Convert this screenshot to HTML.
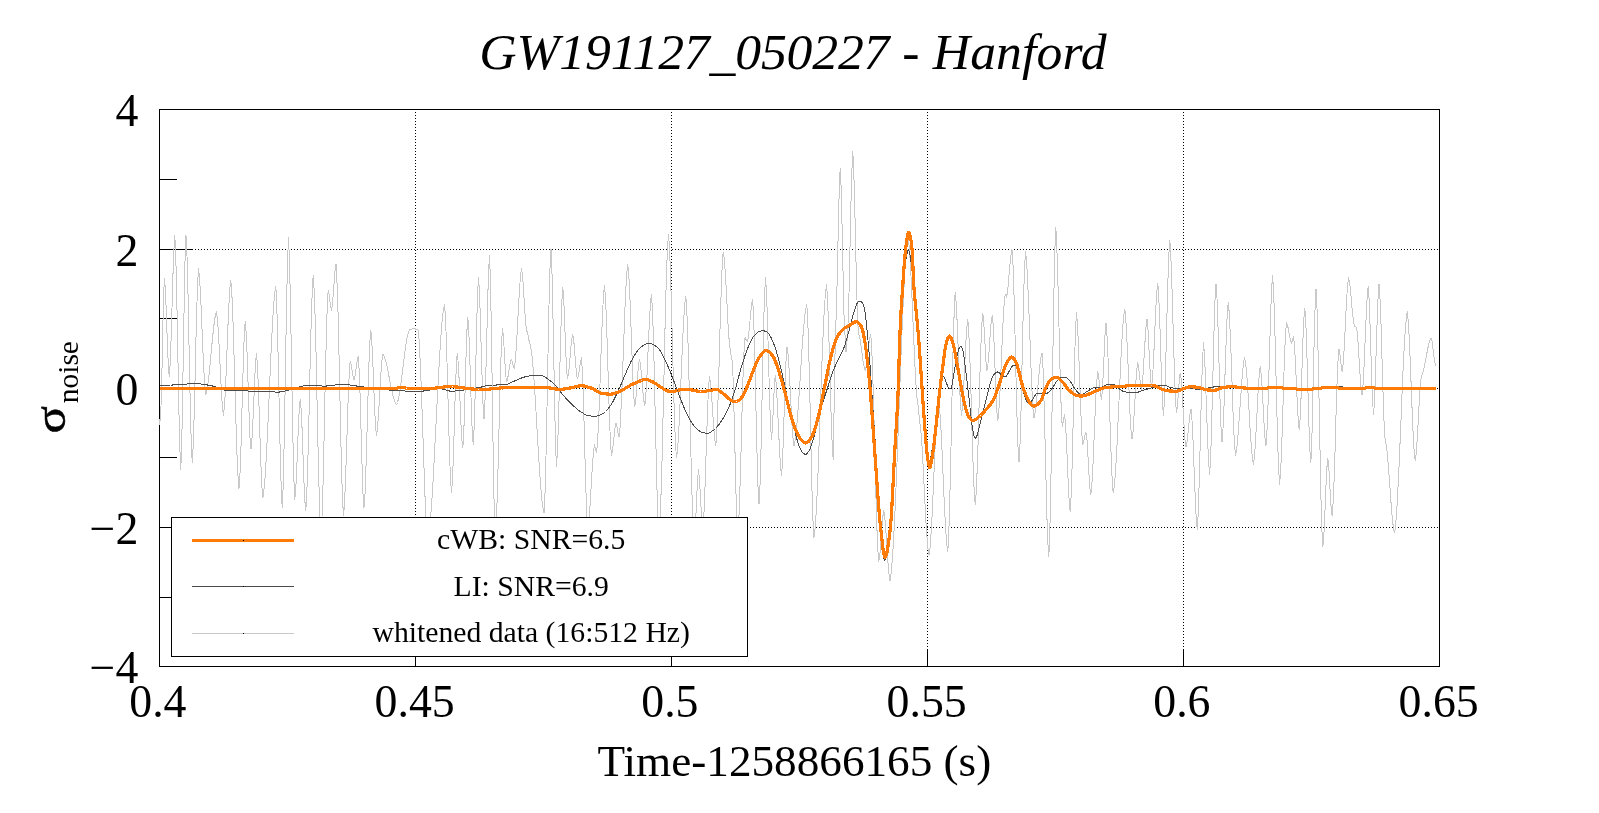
<!DOCTYPE html>
<html lang="en"><head><meta charset="utf-8"><title>GW191127_050227 - Hanford</title>
<style>html,body{margin:0;padding:0;background:#fff;overflow:hidden}svg{display:block;will-change:transform}text{font-family:"Liberation Serif","DejaVu Serif",serif;fill:#000}</style></head><body>
<svg width="1599" height="813" viewBox="0 0 1599 813">
<rect x="0" y="0" width="1599" height="813" fill="#fff"/>
<text x="479.3" y="69.2" font-size="51.7" font-style="italic"><tspan letter-spacing="-0.17">GW191127_050227</tspan><tspan letter-spacing="0.12"> - Hanford</tspan></text>
<clipPath id="c"><rect x="160" y="110" width="1279" height="556"/></clipPath>
<path d="M415.5 109V667M671.5 109V667M927.5 109V667M1183.5 109V667M159 249.5H1440M159 388.5H1440M159 527.5H1440" stroke="#000" stroke-width="1" stroke-dasharray="1 2" fill="none"/>
<path d="M159 666.5h34M159 597.5h18M159 527.5h34M159 457.5h18M159 388.5h34M159 318.5h18M159 249.5h34M159 179.5h18M159 109.5h34M159.5 667v-17M415.5 667v-17M671.5 667v-17M927.5 667v-17M1183.5 667v-17M1439.5 667v-17" stroke="#000" stroke-width="1" fill="none"/>
<g clip-path="url(#c)" fill="none" stroke-linejoin="round" stroke-linecap="butt" shape-rendering="crispEdges">
<path d="M159.5 425.0L160.5 418.0L161.5 393.9L162.4 348.0L163.4 302.1L164.4 278.0L165.4 290.0L166.4 313.6L167.3 341.4L168.3 365.0L169.3 377.0L170.4 359.8L171.5 326.2L172.6 286.3L173.7 252.7L174.8 235.5L175.8 257.0L176.8 298.8L177.8 352.4L178.8 405.9L179.8 447.8L180.8 469.2L181.8 440.8L182.8 385.3L183.9 319.4L184.9 263.9L186.0 235.5L187.0 256.3L188.1 296.9L189.1 348.9L190.2 400.8L191.2 441.4L192.2 462.2L193.3 444.4L194.3 409.7L195.4 365.2L196.4 320.8L197.5 286.1L198.5 268.2L199.5 277.4L200.6 295.0L201.6 318.5L202.6 344.0L203.7 367.5L204.7 385.1L205.8 394.2L206.7 391.1L207.7 385.6L208.7 377.9L209.7 368.7L210.6 358.3L211.6 347.7L212.6 337.3L213.6 328.1L214.5 320.4L215.5 314.9L216.5 311.8L217.5 319.3L218.5 333.8L219.5 353.1L220.5 374.1L221.5 393.4L222.5 407.9L223.5 415.5L224.5 405.6L225.6 386.7L226.6 361.5L227.6 334.0L228.7 308.8L229.7 289.9L230.8 280.0L231.8 292.5L232.8 315.9L233.8 347.8L234.9 384.2L235.9 420.7L236.9 452.6L238.0 476.0L239.0 488.5L240.0 473.1L241.1 443.2L242.1 404.9L243.2 366.5L244.2 336.6L245.2 321.2L246.2 333.0L247.2 355.9L248.1 385.2L249.1 414.6L250.0 437.5L251.0 449.2L251.9 440.4L252.8 423.3L253.8 401.4L254.7 379.4L255.6 362.3L256.5 353.5L257.5 366.8L258.6 392.6L259.6 425.8L260.7 458.9L261.7 484.7L262.8 498.0L263.8 491.6L264.8 480.8L265.8 465.8L266.8 447.4L267.8 426.4L268.8 403.7L269.8 380.5L270.8 357.9L271.8 336.8L272.8 318.4L273.8 303.5L274.8 292.6L275.8 286.2L276.8 306.6L277.9 346.3L279.0 397.1L280.1 447.9L281.2 487.6L282.2 508.0L283.3 483.2L284.3 434.9L285.4 373.0L286.4 311.1L287.5 262.8L288.5 238.0L289.5 262.0L290.6 308.8L291.6 368.6L292.7 428.5L293.7 475.2L294.8 499.2L295.7 490.1L296.6 472.2L297.5 449.2L298.4 426.3L299.3 408.4L300.2 399.2L301.2 409.5L302.1 429.4L303.0 454.9L303.9 480.4L304.8 500.3L305.8 510.5L306.7 496.4L307.6 469.9L308.6 433.9L309.5 392.8L310.4 351.6L311.4 315.6L312.3 289.1L313.2 275.0L314.2 290.5L315.2 319.8L316.2 359.6L317.1 405.0L318.1 450.4L319.1 490.2L320.0 519.5L321.0 535.0L322.0 517.2L323.1 482.9L324.1 437.3L325.1 387.7L326.2 342.1L327.2 307.8L328.2 290.0L329.3 295.6L330.4 304.9L331.5 310.5L332.6 302.5L333.8 287.4L334.9 272.2L336.0 264.2L336.9 279.3L337.9 307.5L338.8 346.0L339.8 389.9L340.7 433.8L341.6 472.2L342.6 500.5L343.5 515.5L344.5 504.2L345.4 482.7L346.4 453.9L347.4 422.6L348.3 393.8L349.3 372.3L350.2 361.0L351.2 364.3L352.1 370.5L353.1 376.7L354.0 380.0L355.1 376.0L356.1 368.4L357.2 360.8L358.2 356.8L359.2 370.6L360.2 397.6L361.1 432.1L362.1 466.7L363.0 493.6L364.0 507.5L365.0 494.6L365.9 469.8L366.9 436.7L367.9 400.8L368.8 367.7L369.8 342.9L370.8 330.0L371.7 339.7L372.7 358.6L373.6 382.8L374.6 406.9L375.5 425.8L376.5 435.5L377.5 428.0L378.6 413.5L379.6 394.9L380.7 376.3L381.7 361.7L382.8 354.2L383.7 355.6L384.7 357.9L385.7 361.1L386.7 365.0L387.7 369.5L388.6 374.4L389.6 379.5L390.6 384.6L391.6 389.5L392.6 394.0L393.6 397.9L394.5 401.1L395.5 403.4L396.5 404.8L397.5 402.5L398.5 398.6L399.5 393.3L400.5 386.8L401.5 379.3L402.5 371.2L403.5 363.0L404.5 354.9L405.5 347.5L406.5 340.9L407.5 335.6L408.5 331.8L409.5 329.5L410.6 329.3L411.8 329.0L412.9 328.7L414.0 328.5L415.0 328.8L416.0 329.2L417.0 329.7L418.0 330.0L419.0 339.1L419.9 355.5L420.9 378.2L421.9 405.4L422.9 435.0L423.9 464.6L424.8 491.8L425.8 514.5L426.8 530.9L427.8 540.0L428.7 535.0L429.7 527.1L430.7 516.4L431.7 503.1L432.7 487.5L433.7 470.2L434.6 451.5L435.6 432.0L436.6 412.2L437.6 392.7L438.6 374.1L439.6 356.7L440.6 341.2L441.5 327.9L442.5 317.2L443.5 309.2L444.5 304.2L445.5 318.0L446.5 344.4L447.5 379.5L448.5 417.7L449.5 452.9L450.5 479.2L451.5 493.0L452.5 480.2L453.4 455.2L454.4 423.2L455.3 391.3L456.3 366.3L457.2 353.5L458.2 362.2L459.1 379.1L460.0 400.8L460.9 422.4L461.8 439.3L462.8 448.0L463.8 432.1L464.8 401.0L465.8 364.0L466.8 332.9L467.8 317.0L468.7 328.7L469.6 351.6L470.5 380.9L471.4 410.2L472.3 433.0L473.2 444.8L474.3 424.4L475.4 384.7L476.4 337.6L477.4 297.8L478.5 277.5L479.4 290.5L480.3 315.9L481.2 348.4L482.2 380.9L483.1 406.2L484.0 419.2L484.9 404.2L485.8 374.9L486.8 337.4L487.7 299.8L488.6 270.5L489.5 255.5L490.5 281.6L491.4 332.6L492.4 397.8L493.3 462.9L494.3 513.9L495.2 540.0L496.3 524.6L497.3 495.0L498.4 455.6L499.4 412.7L500.4 373.3L501.5 343.7L502.5 328.2L503.5 337.5L504.5 355.1L505.5 372.7L506.5 382.0L507.5 379.3L508.5 373.9L509.4 367.6L510.4 362.2L511.4 359.5L512.3 361.9L513.3 366.1L514.2 368.5L515.3 361.2L516.3 347.2L517.4 328.6L518.4 308.4L519.5 289.8L520.5 275.8L521.6 268.5L522.6 276.0L523.6 290.6L524.6 307.9L525.6 322.5L526.6 330.0L527.7 333.8L528.9 340.2L530.0 344.0L531.0 348.6L532.0 356.3L533.0 366.9L534.0 379.9L535.0 395.0L536.0 411.4L537.0 428.5L538.0 445.6L539.0 462.0L540.0 477.1L541.0 490.1L542.0 500.7L543.0 508.4L544.0 513.0L545.0 493.7L546.0 456.8L547.0 407.6L548.0 354.1L549.0 304.9L550.0 268.0L551.0 248.8L551.9 268.8L552.8 307.8L553.8 357.8L554.7 407.7L555.6 446.7L556.5 466.8L557.5 450.3L558.6 418.2L559.6 377.1L560.7 336.0L561.7 304.0L562.8 287.5L563.7 298.6L564.6 320.4L565.5 346.1L566.5 367.9L567.4 379.0L568.5 373.6L569.6 363.0L570.6 350.4L571.7 339.8L572.8 334.4L573.7 339.8L574.6 350.4L575.6 363.0L576.5 373.6L577.4 379.0L578.4 375.4L579.5 368.5L580.5 361.6L581.5 358.0L582.5 373.8L583.6 404.6L584.6 444.0L585.7 483.4L586.7 514.2L587.8 530.0L588.7 523.8L589.7 511.9L590.6 496.1L591.6 478.9L592.6 463.1L593.5 451.2L594.5 445.0L595.5 449.0L596.5 453.0L597.5 443.0L598.5 424.1L599.5 398.5L600.5 369.2L601.5 340.0L602.5 314.4L603.5 295.5L604.5 285.5L605.5 297.9L606.5 321.6L607.5 353.3L608.5 387.7L609.5 419.4L610.5 443.1L611.5 455.5L612.6 449.9L613.8 439.2L614.9 428.6L616.0 423.0L617.0 426.7L618.0 433.0L619.0 436.8L620.0 428.1L620.9 412.1L621.9 390.1L622.9 364.2L623.9 337.0L624.8 311.2L625.8 289.2L626.8 273.2L627.8 264.5L628.8 274.9L629.8 294.7L630.8 321.2L631.8 350.0L632.8 376.5L633.8 396.4L634.8 406.8L635.7 401.0L636.6 389.7L637.6 376.3L638.5 365.0L639.5 359.2L640.5 364.9L641.6 375.9L642.6 388.9L643.7 399.9L644.8 405.5L645.7 397.4L646.7 381.9L647.6 361.2L648.6 338.8L649.6 318.1L650.5 302.6L651.5 294.5L652.4 308.9L653.4 335.9L654.3 372.7L655.2 414.8L656.2 456.8L657.1 493.6L658.1 520.6L659.0 535.0L660.0 522.0L660.9 498.5L661.9 466.0L662.8 427.1L663.8 384.8L664.7 342.4L665.6 303.5L666.6 271.0L667.5 247.5L668.5 234.5L669.5 247.9L670.5 273.0L671.5 307.2L672.5 346.2L673.5 385.3L674.5 419.5L675.5 444.6L676.5 458.0L677.5 449.8L678.6 434.8L679.6 414.2L680.6 389.9L681.6 364.3L682.7 340.1L683.7 319.4L684.7 304.4L685.8 296.2L686.8 310.8L687.9 338.3L688.9 375.5L690.0 418.1L691.1 460.7L692.1 498.0L693.2 525.4L694.2 540.0L695.3 527.9L696.4 505.0L697.4 482.1L698.5 470.0L699.6 480.3L700.6 500.0L701.7 519.7L702.8 530.0L703.7 518.8L704.7 497.4L705.6 468.9L706.6 437.9L707.6 409.3L708.5 387.9L709.5 376.8L710.5 383.1L711.6 395.4L712.6 411.1L713.7 426.9L714.7 439.2L715.8 445.5L716.7 433.9L717.6 412.2L718.6 382.6L719.5 348.8L720.4 314.9L721.4 285.3L722.3 263.6L723.2 252.0L724.3 259.3L725.3 273.3L726.4 291.9L727.4 312.1L728.4 330.7L729.5 344.7L730.5 352.0L731.2 356.0L732.0 360.0L733.0 376.1L733.9 407.4L734.9 447.5L735.8 487.6L736.8 518.9L737.8 535.0L738.8 520.6L739.8 493.0L740.9 456.3L741.9 416.3L742.9 379.6L744.0 352.0L745.0 337.6L746.2 339.8L747.4 342.0L748.4 336.8L749.5 326.7L750.5 314.7L751.6 304.6L752.6 299.4L753.7 318.2L754.7 354.8L755.8 401.7L756.9 448.6L757.9 485.2L759.0 504.0L760.1 483.2L761.2 442.7L762.2 390.8L763.3 338.8L764.4 298.3L765.5 277.5L766.5 292.4L767.5 321.3L768.5 358.4L769.5 395.4L770.5 424.4L771.5 439.2L772.4 428.3L773.4 407.4L774.3 386.5L775.2 375.5L776.3 384.7L777.3 402.6L778.4 425.5L779.4 448.4L780.5 466.3L781.5 475.5L782.4 463.7L783.3 440.6L784.2 411.1L785.2 381.6L786.1 358.6L787.0 346.8L788.0 353.9L789.0 367.7L790.0 386.1L791.0 406.1L792.0 424.5L793.0 438.3L794.0 445.5L795.0 441.2L796.0 434.0L796.9 424.0L797.9 411.8L798.9 397.7L799.9 382.6L800.9 367.1L801.8 352.0L802.8 338.0L803.8 325.7L804.8 315.7L805.8 308.5L806.8 304.2L807.8 321.2L808.8 353.8L809.9 397.2L810.9 444.5L811.9 487.9L813.0 520.5L814.0 537.5L815.0 529.0L816.1 514.2L817.1 493.9L818.2 469.0L819.2 440.8L820.2 411.0L821.3 381.2L822.3 353.0L823.4 328.1L824.4 307.8L825.5 293.0L826.5 284.5L827.5 297.3L828.4 321.8L829.4 354.5L830.4 390.0L831.3 422.7L832.3 447.2L833.2 460.0L834.3 396.0L835.4 332.0L836.4 312.1L837.3 273.2L838.3 227.1L839.3 188.2L840.2 168.2L841.2 188.5L842.1 228.1L843.1 275.1L844.0 314.7L845.0 335.0L846.0 352.0L846.8 343.5L847.5 335.0L848.5 312.7L849.6 269.2L850.6 217.6L851.7 174.0L852.8 151.8L853.7 168.4L854.6 200.8L855.6 242.4L856.5 283.9L857.5 316.3L858.4 333.0L859.4 335.7L860.4 341.0L861.3 348.0L862.3 355.5L863.3 362.5L864.3 367.8L865.2 370.5L866.3 366.1L867.4 357.4L868.5 347.1L869.6 338.4L870.7 334.0L871.7 347.6L872.7 373.2L873.7 407.9L874.7 447.6L875.7 487.3L876.7 522.1L877.7 547.7L878.8 561.2L879.8 555.1L880.8 543.1L881.8 528.9L882.8 516.9L883.8 510.8L884.8 517.2L885.8 529.7L886.9 545.8L887.9 561.8L889.0 574.3L890.0 580.8L891.0 574.0L892.0 563.5L893.0 549.2L894.0 531.6L895.0 511.0L896.0 487.9L897.0 462.9L898.0 436.5L899.0 409.4L900.0 382.3L901.0 355.9L902.0 330.8L903.0 307.7L904.0 287.1L905.0 269.5L906.0 255.3L907.0 244.7L908.0 238.0L909.0 245.2L910.0 258.3L911.0 276.3L912.0 298.0L913.0 321.5L914.0 345.0L915.0 366.7L916.0 384.7L917.0 397.8L918.0 405.0L918.8 413.0L919.5 421.0L920.5 426.8L921.4 437.3L922.4 451.8L923.3 469.1L924.2 488.0L925.2 506.9L926.1 524.2L927.1 538.7L928.0 549.2L929.0 555.0L930.0 548.3L930.9 536.1L931.9 519.4L932.8 499.3L933.8 477.5L934.7 455.7L935.6 435.6L936.6 418.9L937.5 406.7L938.5 400.0L939.5 407.6L940.6 421.7L941.6 441.1L942.6 463.9L943.6 487.9L944.7 510.7L945.7 530.0L946.7 544.1L947.8 551.8L948.7 536.2L949.6 507.1L950.6 467.4L951.5 422.1L952.4 376.8L953.4 337.2L954.3 308.0L955.2 292.5L956.3 303.8L957.3 325.8L958.4 354.0L959.4 382.2L960.5 404.2L961.5 415.5L962.5 406.7L963.6 389.4L964.6 367.4L965.7 345.3L966.7 328.1L967.8 319.2L968.7 330.3L969.6 351.2L970.6 379.5L971.5 411.9L972.4 444.2L973.4 472.6L974.3 493.4L975.2 504.5L976.2 493.1L977.1 471.5L978.1 442.3L979.0 408.9L979.9 375.5L980.9 346.2L981.8 324.7L982.8 313.2L983.8 323.1L984.9 341.9L985.9 360.6L987.0 370.5L988.0 363.8L989.1 350.7L990.1 335.3L991.2 322.2L992.2 315.5L993.2 325.2L994.1 343.9L995.0 368.0L995.9 392.1L996.8 410.8L997.8 420.5L998.7 413.0L999.6 398.7L1000.6 379.4L1001.5 357.4L1002.4 335.3L1003.4 316.0L1004.3 301.8L1005.2 294.2L1006.5 297.0L1007.4 292.6L1008.3 284.1L1009.2 273.2L1010.2 262.4L1011.1 253.9L1012.0 249.5L1013.0 265.0L1014.0 294.7L1015.0 334.2L1016.0 377.3L1017.0 416.8L1018.0 446.5L1019.0 462.0L1020.1 442.6L1021.2 404.9L1022.2 356.6L1023.3 308.3L1024.4 270.6L1025.5 251.2L1026.6 261.2L1027.6 279.9L1028.7 305.3L1029.8 334.4L1030.8 363.4L1031.9 388.8L1032.9 407.6L1034.0 417.5L1035.0 413.6L1036.0 406.4L1037.0 396.5L1038.0 385.2L1039.0 374.0L1040.0 364.1L1041.0 356.9L1042.0 353.0L1043.0 367.9L1043.9 396.4L1044.9 434.3L1045.9 475.7L1046.8 513.6L1047.8 542.1L1048.8 557.0L1049.8 533.0L1050.8 486.9L1051.8 425.6L1052.8 358.9L1053.8 297.6L1054.8 251.5L1055.8 227.5L1056.8 245.8L1057.9 281.5L1059.0 327.1L1060.1 372.8L1061.2 408.4L1062.2 426.8L1063.4 420.5L1064.5 414.2L1065.5 423.2L1066.4 440.7L1067.4 463.1L1068.3 485.5L1069.3 503.0L1070.2 512.0L1071.3 493.7L1072.3 458.0L1073.4 412.2L1074.4 366.5L1075.5 330.8L1076.5 312.5L1077.5 324.6L1078.6 348.2L1079.6 378.4L1080.7 408.6L1081.7 432.1L1082.8 444.2L1083.8 441.1L1084.9 435.7L1086.0 432.5L1087.0 440.0L1087.9 454.8L1088.8 472.2L1089.8 487.0L1090.8 494.5L1091.8 485.6L1092.8 468.4L1093.8 445.6L1094.8 420.7L1095.8 397.8L1096.8 380.7L1097.8 371.8L1098.7 376.6L1099.6 385.9L1100.6 395.1L1101.5 400.0L1102.6 386.8L1103.8 361.6L1104.9 336.5L1106.0 323.2L1107.0 335.6L1108.1 359.3L1109.1 390.8L1110.1 425.2L1111.2 456.7L1112.2 480.4L1113.2 492.8L1114.2 486.6L1115.2 475.9L1116.1 461.1L1117.1 443.1L1118.0 422.6L1119.0 401.0L1120.0 379.4L1120.9 358.9L1121.9 340.9L1122.8 326.1L1123.8 315.4L1124.8 309.2L1125.8 318.7L1126.8 336.9L1127.9 361.1L1128.9 387.4L1129.9 411.6L1131.0 429.8L1132.0 439.2L1133.0 432.2L1133.9 418.5L1134.9 400.9L1135.8 383.3L1136.8 369.6L1137.8 362.5L1138.7 367.3L1139.6 376.5L1140.6 385.7L1141.5 390.5L1142.4 384.0L1143.3 371.2L1144.2 354.9L1145.2 338.5L1146.1 325.8L1147.0 319.2L1148.1 331.1L1149.2 353.6L1150.4 376.2L1151.5 388.0L1152.5 378.3L1153.6 359.6L1154.6 335.5L1155.7 311.4L1156.7 292.7L1157.8 283.0L1158.7 295.2L1159.7 318.9L1160.6 349.2L1161.6 379.6L1162.5 403.3L1163.5 415.5L1164.5 399.4L1165.6 368.1L1166.6 328.0L1167.7 287.9L1168.7 256.6L1169.8 240.5L1170.7 253.1L1171.7 277.2L1172.6 309.3L1173.6 344.2L1174.6 376.3L1175.5 400.4L1176.5 413.0L1177.4 406.1L1178.4 393.0L1179.3 379.9L1180.2 373.0L1181.2 379.8L1182.2 393.0L1183.1 409.9L1184.1 426.8L1185.0 440.0L1186.0 446.8L1187.0 442.2L1188.0 433.3L1189.0 422.7L1190.0 413.8L1191.0 409.2L1192.0 420.3L1193.1 441.8L1194.1 469.2L1195.2 496.8L1196.2 518.2L1197.2 529.2L1198.3 512.1L1199.3 478.8L1200.4 436.1L1201.4 393.4L1202.5 360.1L1203.5 343.0L1204.5 355.1L1205.5 378.6L1206.5 408.8L1207.6 439.0L1208.6 462.5L1209.6 474.6L1210.7 457.1L1211.7 422.9L1212.8 379.2L1213.9 335.4L1214.9 301.3L1216.0 283.8L1217.0 298.3L1218.0 326.5L1219.0 362.8L1220.0 399.0L1221.0 427.2L1222.0 441.8L1223.0 428.9L1224.1 404.0L1225.1 372.0L1226.2 340.0L1227.2 315.1L1228.2 302.2L1229.3 313.4L1230.3 334.8L1231.4 363.4L1232.4 394.4L1233.4 422.9L1234.5 444.3L1235.5 455.5L1236.5 450.6L1237.5 441.5L1238.5 429.0L1239.5 414.2L1240.6 398.8L1241.6 384.0L1242.6 371.5L1243.6 362.4L1244.6 357.5L1245.6 362.9L1246.6 372.8L1247.6 386.4L1248.6 402.4L1249.5 419.3L1250.5 435.3L1251.5 449.0L1252.5 458.9L1253.5 464.2L1254.5 457.1L1255.4 443.5L1256.4 425.4L1257.4 405.6L1258.3 387.5L1259.3 373.9L1260.2 366.8L1261.2 374.0L1262.2 388.1L1263.1 406.1L1264.1 424.2L1265.0 438.3L1266.0 445.5L1266.9 433.1L1267.9 409.4L1268.8 377.7L1269.8 343.3L1270.7 311.6L1271.7 287.9L1272.6 275.5L1273.6 290.7L1274.6 319.9L1275.6 358.7L1276.6 401.0L1277.6 439.9L1278.6 469.0L1279.6 484.2L1280.6 472.5L1281.6 449.9L1282.6 419.8L1283.5 387.0L1284.5 356.9L1285.5 334.3L1286.5 322.5L1287.5 325.0L1288.5 329.9L1289.5 335.6L1290.5 340.5L1291.5 343.0L1292.5 340.0L1293.5 337.0L1294.5 345.5L1295.4 362.0L1296.4 383.1L1297.3 404.3L1298.3 420.8L1299.2 429.2L1300.2 418.1L1301.1 396.5L1302.0 368.8L1302.9 341.0L1303.8 319.4L1304.8 308.2L1305.8 322.5L1306.8 350.2L1307.8 385.6L1308.8 421.1L1309.8 448.8L1310.8 463.0L1311.8 441.9L1312.8 400.6L1313.9 351.6L1315.0 310.4L1316.0 289.2L1317.0 308.0L1317.9 344.1L1318.9 392.0L1319.9 444.2L1320.8 492.2L1321.8 528.2L1322.8 547.0L1323.8 536.2L1324.8 515.0L1325.8 490.0L1326.8 468.8L1327.8 458.0L1328.8 467.9L1329.9 486.8L1331.0 505.6L1332.1 515.5L1333.1 503.4L1334.1 480.2L1335.1 449.2L1336.0 415.5L1337.0 384.6L1338.0 361.4L1339.0 349.2L1340.1 355.3L1341.2 365.7L1342.2 371.8L1343.3 363.1L1344.3 346.2L1345.4 324.6L1346.4 303.0L1347.5 286.2L1348.5 277.5L1349.5 282.0L1350.5 290.6L1351.5 301.8L1352.5 312.9L1353.5 321.5L1354.5 326.0L1355.5 326.8L1356.5 327.5L1357.4 333.7L1358.3 345.8L1359.2 361.2L1360.2 376.7L1361.1 388.8L1362.0 395.0L1363.0 385.0L1364.1 365.5L1365.1 340.6L1366.2 315.7L1367.2 296.2L1368.2 286.2L1369.3 301.9L1370.3 332.5L1371.4 368.8L1372.5 399.3L1373.5 415.0L1374.4 403.0L1375.3 379.6L1376.2 349.6L1377.2 319.7L1378.1 296.3L1379.0 284.2L1380.0 298.6L1381.1 326.6L1382.1 362.4L1383.2 398.2L1384.2 426.1L1385.2 440.5L1386.3 445.2L1387.3 453.8L1388.3 465.6L1389.4 479.4L1390.4 494.1L1391.4 507.9L1392.4 519.7L1393.5 528.3L1394.5 533.0L1395.5 526.3L1396.5 515.0L1397.4 499.4L1398.4 480.1L1399.4 458.2L1400.4 434.5L1401.4 410.2L1402.3 386.6L1403.3 364.6L1404.3 345.4L1405.3 329.8L1406.3 318.4L1407.2 311.8L1408.2 320.6L1409.2 337.4L1410.2 360.1L1411.2 386.1L1412.2 412.1L1413.2 434.9L1414.2 451.6L1415.2 460.5L1416.3 452.7L1417.3 437.5L1418.4 418.0L1419.4 398.5L1420.5 383.3L1421.5 375.5L1422.5 373.9L1423.4 370.9L1424.3 366.9L1425.3 362.0L1426.2 356.8L1427.2 351.5L1428.2 346.6L1429.1 342.6L1430.0 339.6L1431.0 338.0L1432.0 341.3L1432.9 347.9L1433.8 355.6L1434.8 362.2L1435.8 365.5" stroke="#c9c9c9" stroke-width="1"/>
<path d="M159.5 385.4L160.5 385.4L161.5 385.3L162.5 385.3L163.5 385.3L164.5 385.3L165.5 385.2L166.5 385.2L167.5 385.2L168.5 385.1L169.5 385.1L170.5 385.0L171.5 385.0L172.5 385.0L173.5 384.9L174.5 384.9L175.5 384.8L176.5 384.8L177.5 384.7L178.5 384.7L179.5 384.6L180.5 384.6L181.5 384.5L182.5 384.4L183.5 384.4L184.5 384.3L185.5 384.2L186.5 384.1L187.5 384.0L188.5 383.9L189.5 383.8L190.5 383.8L191.5 383.7L192.5 383.7L193.5 383.6L194.5 383.6L195.5 383.6L196.5 383.6L197.5 383.7L198.5 383.8L199.5 383.9L200.5 384.0L201.5 384.1L202.5 384.3L203.5 384.4L204.5 384.5L205.5 384.7L206.5 384.8L207.5 385.0L208.5 385.2L209.5 385.4L210.5 385.6L211.5 385.8L212.5 386.0L213.5 386.2L214.5 386.5L215.5 386.7L216.5 387.1L217.5 387.4L218.5 387.8L219.5 388.3L220.5 388.7L221.5 389.1L222.5 389.5L223.5 389.9L224.5 390.2L225.5 390.4L226.5 390.6L227.5 390.6L228.5 390.7L229.5 390.7L230.5 390.7L231.5 390.7L232.5 390.8L233.5 390.8L234.5 390.8L235.5 390.8L236.5 390.8L237.5 390.8L238.5 390.8L239.5 390.9L240.5 390.9L241.5 390.9L242.5 390.9L243.5 390.9L244.5 390.9L245.5 390.9L246.5 390.9L247.5 391.0L248.5 391.0L249.5 391.0L250.5 391.0L251.5 391.1L252.5 391.1L253.5 391.1L254.5 391.2L255.5 391.2L256.5 391.3L257.5 391.3L258.5 391.3L259.5 391.4L260.5 391.4L261.5 391.5L262.5 391.5L263.5 391.6L264.5 391.6L265.5 391.7L266.5 391.7L267.5 391.7L268.5 391.8L269.5 391.8L270.5 391.8L271.5 391.9L272.5 391.9L273.5 391.9L274.5 392.0L275.5 392.0L276.5 392.0L277.5 392.0L278.5 392.0L279.5 392.0L280.5 391.9L281.5 391.8L282.5 391.6L283.5 391.4L284.5 391.2L285.5 390.9L286.5 390.6L287.5 390.3L288.5 390.0L289.5 389.6L290.5 389.3L291.5 389.0L292.5 388.7L293.5 388.4L294.5 388.1L295.5 387.9L296.5 387.6L297.5 387.4L298.5 387.1L299.5 386.9L300.5 386.6L301.5 386.3L302.5 386.1L303.5 385.9L304.5 385.8L305.5 385.7L306.5 385.6L307.5 385.6L308.5 385.6L309.5 385.6L310.5 385.6L311.5 385.7L312.5 385.7L313.5 385.7L314.5 385.8L315.5 385.8L316.5 385.8L317.5 385.8L318.5 385.9L319.5 385.9L320.5 385.9L321.5 386.0L322.5 386.0L323.5 386.0L324.5 386.0L325.5 386.0L326.5 386.0L327.5 385.9L328.5 385.8L329.5 385.8L330.5 385.6L331.5 385.5L332.5 385.4L333.5 385.3L334.5 385.1L335.5 385.0L336.5 384.9L337.5 384.8L338.5 384.6L339.5 384.6L340.5 384.5L341.5 384.4L342.5 384.4L343.5 384.4L344.5 384.4L345.5 384.5L346.5 384.6L347.5 384.7L348.5 384.8L349.5 384.9L350.5 385.1L351.5 385.2L352.5 385.4L353.5 385.6L354.5 385.7L355.5 385.9L356.5 386.0L357.5 386.2L358.5 386.3L359.5 386.5L360.5 386.6L361.5 386.7L362.5 386.9L363.5 387.0L364.5 387.1L365.5 387.3L366.5 387.4L367.5 387.5L368.5 387.7L369.5 387.8L370.5 387.9L371.5 388.1L372.5 388.2L373.5 388.3L374.5 388.4L375.5 388.6L376.5 388.7L377.5 388.8L378.5 388.9L379.5 389.0L380.5 389.2L381.5 389.3L382.5 389.4L383.5 389.5L384.5 389.6L385.5 389.7L386.5 389.8L387.5 389.9L388.5 390.0L389.5 390.0L390.5 390.1L391.5 390.2L392.5 390.3L393.5 390.3L394.5 390.4L395.5 390.5L396.5 390.6L397.5 390.6L398.5 390.7L399.5 390.8L400.5 390.8L401.5 390.9L402.5 390.9L403.5 390.9L404.5 391.0L405.5 391.0L406.5 391.0L407.5 391.0L408.5 391.0L409.5 391.0L410.5 391.0L411.5 391.0L412.5 391.0L413.5 391.0L414.5 391.0L415.5 391.0L416.5 391.0L417.5 391.0L418.5 391.0L419.5 391.0L420.5 391.0L421.5 391.0L422.5 391.0L423.5 391.0L424.5 390.9L425.5 390.8L426.5 390.7L427.5 390.5L428.5 390.3L429.5 390.1L430.5 389.9L431.5 389.7L432.5 389.6L433.5 389.4L434.5 389.3L435.5 389.1L436.5 389.0L437.5 388.9L438.5 388.9L439.5 388.8L440.5 388.8L441.5 388.9L442.5 389.1L443.5 389.3L444.5 389.6L445.5 389.9L446.5 390.3L447.5 390.5L448.5 390.8L449.5 391.0L450.5 391.2L451.5 391.2L452.5 391.2L453.5 391.2L454.5 391.1L455.5 391.0L456.5 390.9L457.5 390.8L458.5 390.7L459.5 390.6L460.5 390.5L461.5 390.4L462.5 390.2L463.5 390.1L464.5 390.0L465.5 389.9L466.5 389.7L467.5 389.6L468.5 389.4L469.5 389.3L470.5 389.1L471.5 389.0L472.5 388.8L473.5 388.6L474.5 388.4L475.5 388.2L476.5 388.0L477.5 387.8L478.5 387.6L479.5 387.4L480.5 387.2L481.5 387.0L482.5 386.7L483.5 386.4L484.5 386.1L485.5 385.8L486.5 385.6L487.5 385.4L488.5 385.2L489.5 385.2L490.5 385.1L491.5 385.1L492.5 385.0L493.5 385.0L494.5 385.0L495.5 385.0L496.5 385.0L497.5 384.9L498.5 384.9L499.5 384.9L500.5 384.9L501.5 384.9L502.5 384.8L503.5 384.8L504.5 384.7L505.5 384.6L506.5 384.4L507.5 384.1L508.5 383.7L509.5 383.2L510.5 382.8L511.5 382.3L512.5 381.8L513.5 381.4L514.5 381.0L515.5 380.5L516.5 380.1L517.5 379.7L518.5 379.2L519.5 378.8L520.5 378.4L521.5 378.0L522.5 377.6L523.5 377.3L524.5 377.0L525.5 376.8L526.5 376.5L527.5 376.3L528.5 376.1L529.5 375.8L530.5 375.7L531.5 375.5L532.5 375.4L533.5 375.3L534.5 375.3L535.5 375.3L536.5 375.3L537.5 375.3L538.5 375.3L539.5 375.4L540.5 375.4L541.5 375.5L542.5 375.7L543.5 376.1L544.5 376.7L545.5 377.3L546.5 378.0L547.5 378.7L548.5 379.5L549.5 380.1L550.5 380.9L551.5 381.7L552.5 382.6L553.5 383.5L554.5 384.5L555.5 385.6L556.5 386.6L557.5 387.8L558.5 389.2L559.5 390.6L560.5 391.9L561.5 393.1L562.5 394.3L563.5 395.5L564.5 396.6L565.5 397.8L566.5 398.9L567.5 399.9L568.5 401.0L569.5 402.0L570.5 403.0L571.5 404.0L572.5 404.9L573.5 405.9L574.5 406.8L575.5 407.7L576.5 408.6L577.5 409.4L578.5 410.2L579.5 410.9L580.5 411.6L581.5 412.2L582.5 412.9L583.5 413.5L584.5 414.1L585.5 414.7L586.5 415.1L587.5 415.5L588.5 415.7L589.5 415.8L590.5 416.0L591.5 416.1L592.5 416.2L593.5 416.2L594.5 416.2L595.5 416.2L596.5 416.1L597.5 415.9L598.5 415.6L599.5 415.2L600.5 414.7L601.5 414.2L602.5 413.8L603.5 413.2L604.5 412.4L605.5 411.5L606.5 410.5L607.5 409.4L608.5 408.2L609.5 406.9L610.5 405.6L611.5 404.1L612.5 402.4L613.5 400.6L614.5 398.6L615.5 396.6L616.5 394.6L617.5 392.5L618.5 390.4L619.5 388.1L620.5 385.7L621.5 383.3L622.5 380.9L623.5 378.5L624.5 376.1L625.5 373.9L626.5 371.6L627.5 369.2L628.5 367.0L629.5 364.7L630.5 362.6L631.5 360.6L632.5 358.8L633.5 357.0L634.5 355.3L635.5 353.7L636.5 352.1L637.5 350.7L638.5 349.5L639.5 348.4L640.5 347.6L641.5 346.8L642.5 346.0L643.5 345.3L644.5 344.7L645.5 344.1L646.5 343.7L647.5 343.4L648.5 343.3L649.5 343.3L650.5 343.5L651.5 343.8L652.5 344.2L653.5 344.7L654.5 345.4L655.5 346.0L656.5 346.7L657.5 347.5L658.5 348.5L659.5 349.8L660.5 351.3L661.5 353.1L662.5 355.0L663.5 357.0L664.5 359.0L665.5 361.0L666.5 363.1L667.5 365.3L668.5 367.6L669.5 370.1L670.5 372.5L671.5 375.0L672.5 377.5L673.5 380.1L674.5 382.7L675.5 385.4L676.5 388.2L677.5 390.9L678.5 393.6L679.5 396.2L680.5 398.7L681.5 401.3L682.5 403.7L683.5 406.2L684.5 408.6L685.5 410.9L686.5 413.0L687.5 415.0L688.5 416.9L689.5 418.8L690.5 420.6L691.5 422.3L692.5 423.8L693.5 425.2L694.5 426.5L695.5 427.5L696.5 428.5L697.5 429.4L698.5 430.3L699.5 431.0L700.5 431.7L701.5 432.2L702.5 432.5L703.5 432.7L704.5 432.9L705.5 433.1L706.5 433.2L707.5 433.2L708.5 433.1L709.5 432.8L710.5 432.3L711.5 431.6L712.5 430.9L713.5 430.2L714.5 429.4L715.5 428.5L716.5 427.5L717.5 426.3L718.5 425.0L719.5 423.7L720.5 422.3L721.5 420.9L722.5 419.4L723.5 417.8L724.5 416.0L725.5 414.2L726.5 412.3L727.5 410.2L728.5 408.1L729.5 405.8L730.5 403.2L731.5 400.5L732.5 397.7L733.5 394.7L734.5 391.6L735.5 388.4L736.5 384.9L737.5 381.2L738.5 377.4L739.5 373.7L740.5 370.0L741.5 366.7L742.5 363.4L743.5 360.2L744.5 357.1L745.5 354.1L746.5 351.3L747.5 348.8L748.5 346.4L749.5 344.0L750.5 341.8L751.5 339.8L752.5 338.0L753.5 336.5L754.5 335.4L755.5 334.3L756.5 333.4L757.5 332.6L758.5 331.9L759.5 331.4L760.5 331.1L761.5 330.9L762.5 330.8L763.5 330.8L764.5 331.0L765.5 331.4L766.5 331.9L767.5 332.5L768.5 333.4L769.5 334.8L770.5 336.5L771.5 338.6L772.5 340.8L773.5 343.2L774.5 345.7L775.5 348.6L776.5 351.9L777.5 355.5L778.5 359.2L779.5 363.1L780.5 367.0L781.5 371.1L782.5 375.5L783.5 380.0L784.5 384.6L785.5 389.2L786.5 393.6L787.5 398.0L788.5 402.5L789.5 407.0L790.5 411.4L791.5 415.7L792.5 420.0L793.5 424.3L794.5 428.9L795.5 433.4L796.5 437.6L797.5 441.3L798.5 444.4L799.5 446.8L800.5 449.1L801.5 451.1L802.5 452.7L803.5 453.6L804.5 454.0L805.5 454.2L806.5 454.0L807.5 453.0L808.5 451.6L809.5 450.0L810.5 447.6L811.5 444.8L812.5 441.6L813.5 438.3L814.5 434.8L815.5 430.7L816.5 426.2L817.5 421.5L818.5 417.0L819.5 412.9L820.5 409.3L821.5 406.1L822.5 403.0L823.5 400.0L824.5 397.0L825.5 394.0L826.5 391.0L827.5 388.0L828.5 385.0L829.5 381.9L830.5 378.7L831.5 375.5L832.5 372.5L833.5 369.9L834.5 367.6L835.5 365.3L836.5 363.2L837.5 361.1L838.5 359.0L839.5 357.0L840.5 355.1L841.5 353.2L842.5 351.2L843.5 348.9L844.5 346.3L845.5 343.1L846.5 339.7L847.5 336.1L848.5 332.5L849.5 328.7L850.5 324.7L851.5 320.8L852.5 317.1L853.5 313.8L854.5 310.4L855.5 307.1L856.5 304.4L857.5 302.8L858.5 301.8L859.5 301.1L860.5 301.1L861.5 301.8L862.5 303.1L863.5 305.1L864.5 308.9L865.5 315.2L866.5 324.9L867.5 334.9L868.5 345.7L869.5 357.7L870.5 371.9L871.5 387.3L872.5 402.1L873.5 416.9L874.5 431.7L875.5 446.4L876.5 461.3L877.5 477.0L878.5 492.8L879.5 508.0L880.5 521.6L881.5 533.6L882.5 546.1L883.5 556.3L884.5 560.5L885.5 558.6L886.5 553.6L887.5 546.2L888.5 537.3L889.5 527.6L890.5 514.3L891.5 495.9L892.5 475.3L893.5 455.6L894.5 438.0L895.5 420.7L896.5 403.0L897.5 384.0L898.5 362.0L899.5 340.9L900.5 324.5L901.5 310.6L902.5 298.0L903.5 285.2L904.5 272.5L905.5 262.7L906.5 256.2L907.5 251.0L908.5 249.2L909.5 252.0L910.5 258.1L911.5 265.3L912.5 273.2L913.5 283.3L914.5 294.4L915.5 305.5L916.5 316.9L917.5 329.0L918.5 342.4L919.5 357.4L920.5 372.5L921.5 387.5L922.5 402.6L923.5 417.8L924.5 431.2L925.5 443.3L926.5 453.0L927.5 459.1L928.5 463.3L929.5 463.3L930.5 458.8L931.5 453.4L932.5 447.5L933.5 440.6L934.5 433.3L935.5 425.3L936.5 416.6L937.5 406.5L938.5 393.5L939.5 384.4L940.5 381.3L941.5 379.0L942.5 377.4L943.5 376.8L944.5 377.8L945.5 380.5L946.5 383.3L947.5 385.6L948.5 387.9L949.5 388.5L950.5 388.3L951.5 387.8L952.5 383.1L953.5 376.0L954.5 369.9L955.5 364.0L956.5 358.4L957.5 353.9L958.5 349.8L959.5 347.3L960.5 346.6L961.5 346.6L962.5 348.7L963.5 352.8L964.5 360.1L965.5 368.7L966.5 376.8L967.5 385.2L968.5 393.9L969.5 402.7L970.5 412.1L971.5 421.0L972.5 428.2L973.5 434.1L974.5 437.3L975.5 438.3L976.5 436.8L977.5 434.4L978.5 430.5L979.5 426.0L980.5 422.0L981.5 418.0L982.5 414.0L983.5 410.0L984.5 406.0L985.5 401.9L986.5 397.9L987.5 394.0L988.5 390.1L989.5 386.1L990.5 382.4L991.5 379.4L992.5 377.2L993.5 375.3L994.5 373.9L995.5 372.9L996.5 372.2L997.5 372.0L998.5 372.3L999.5 372.9L1000.5 373.7L1001.5 375.2L1002.5 376.7L1003.5 376.8L1004.5 376.6L1005.5 376.4L1006.5 376.0L1007.5 374.5L1008.5 372.5L1009.5 370.7L1010.5 368.6L1011.5 366.8L1012.5 365.9L1013.5 365.6L1014.5 365.4L1015.5 365.3L1016.5 365.8L1017.5 367.2L1018.5 369.2L1019.5 372.9L1020.5 377.6L1021.5 382.1L1022.5 386.9L1023.5 391.7L1024.5 395.5L1025.5 398.7L1026.5 401.2L1027.5 402.4L1028.5 403.3L1029.5 403.4L1030.5 402.6L1031.5 401.3L1032.5 399.9L1033.5 398.2L1034.5 396.3L1035.5 394.6L1036.5 393.9L1037.5 393.6L1038.5 393.4L1039.5 393.3L1040.5 393.3L1041.5 393.4L1042.5 393.5L1043.5 393.7L1044.5 393.9L1045.5 393.9L1046.5 393.6L1047.5 393.1L1048.5 392.5L1049.5 391.8L1050.5 390.7L1051.5 389.3L1052.5 388.0L1053.5 386.5L1054.5 384.8L1055.5 383.1L1056.5 381.6L1057.5 380.3L1058.5 379.3L1059.5 378.4L1060.5 377.6L1061.5 377.2L1062.5 377.1L1063.5 377.1L1064.5 377.1L1065.5 377.1L1066.5 377.5L1067.5 378.3L1068.5 379.4L1069.5 380.5L1070.5 381.7L1071.5 383.3L1072.5 385.1L1073.5 386.8L1074.5 388.2L1075.5 389.6L1076.5 391.0L1077.5 392.2L1078.5 393.0L1079.5 393.6L1080.5 394.1L1081.5 394.3L1082.5 394.2L1083.5 393.8L1084.5 393.2L1085.5 392.6L1086.5 391.9L1087.5 391.2L1088.5 390.7L1089.5 390.0L1090.5 389.3L1091.5 388.7L1092.5 388.2L1093.5 387.9L1094.5 387.8L1095.5 387.8L1096.5 387.7L1097.5 387.7L1098.5 387.6L1099.5 387.6L1100.5 387.5L1101.5 387.3L1102.5 386.8L1103.5 386.3L1104.5 385.7L1105.5 385.2L1106.5 384.8L1107.5 384.7L1108.5 384.7L1109.5 384.7L1110.5 384.7L1111.5 384.7L1112.5 384.7L1113.5 384.7L1114.5 384.7L1115.5 385.2L1116.5 386.2L1117.5 387.3L1118.5 388.2L1119.5 388.9L1120.5 389.6L1121.5 390.4L1122.5 391.0L1123.5 391.5L1124.5 391.9L1125.5 392.0L1126.5 392.1L1127.5 392.1L1128.5 392.2L1129.5 392.2L1130.5 392.2L1131.5 392.2L1132.5 392.3L1133.5 392.3L1134.5 392.3L1135.5 392.3L1136.5 392.3L1137.5 392.2L1138.5 392.0L1139.5 391.7L1140.5 391.3L1141.5 390.9L1142.5 390.5L1143.5 390.1L1144.5 389.8L1145.5 389.5L1146.5 389.2L1147.5 389.0L1148.5 388.7L1149.5 388.5L1150.5 388.2L1151.5 387.9L1152.5 387.6L1153.5 387.2L1154.5 386.8L1155.5 386.3L1156.5 385.8L1157.5 385.5L1158.5 385.4L1159.5 385.4L1160.5 385.4L1161.5 385.4L1162.5 385.4L1163.5 385.4L1164.5 385.4L1165.5 385.4L1166.5 385.6L1167.5 386.1L1168.5 386.6L1169.5 387.1L1170.5 387.4L1171.5 387.7L1172.5 387.9L1173.5 388.1L1174.5 388.2L1175.5 388.4L1176.5 388.4L1177.5 388.5L1178.5 388.5L1179.5 388.5L1180.5 388.6L1181.5 388.6L1182.5 388.6L1183.5 388.6L1184.5 388.6L1185.5 388.7L1186.5 388.7L1187.5 388.7L1188.5 388.7L1189.5 388.7L1190.5 388.8L1191.5 388.8L1192.5 388.9L1193.5 388.9L1194.5 389.0L1195.5 389.0L1196.5 389.1L1197.5 389.1L1198.5 389.1L1199.5 389.1L1200.5 389.0L1201.5 388.9L1202.5 388.8L1203.5 388.7L1204.5 388.6L1205.5 388.4L1206.5 388.3L1207.5 388.1L1208.5 388.0L1209.5 387.9L1210.5 387.7L1211.5 387.5L1212.5 387.2L1213.5 387.0L1214.5 386.8L1215.5 386.6L1216.5 386.5L1217.5 386.5L1218.5 386.5L1219.5 386.5L1220.5 386.5L1221.5 386.5L1222.5 386.5L1223.5 386.5L1224.5 386.5L1225.5 386.5L1226.5 386.6L1227.5 386.7L1228.5 386.8L1229.5 387.0L1230.5 387.1L1231.5 387.3L1232.5 387.4L1233.5 387.6L1234.5 387.6L1235.5 387.7L1236.5 387.8L1237.5 387.9L1238.5 388.0L1239.5 388.1L1240.5 388.2L1241.5 388.3L1242.5 388.3L1243.5 388.4L1244.5 388.4L1245.5 388.4L1246.5 388.4L1247.5 388.4L1248.5 388.4L1249.5 388.4L1250.5 388.4L1251.5 388.4L1252.5 388.4L1253.5 388.4L1254.5 388.4L1255.5 388.4L1256.5 388.4L1257.5 388.4L1258.5 388.4L1259.5 388.4L1260.5 388.4L1261.5 388.4L1262.5 388.4L1263.5 388.4L1264.5 388.4L1265.5 388.4L1266.5 388.4L1267.5 388.4L1268.5 388.4L1269.5 388.4L1270.5 388.4L1271.5 388.4L1272.5 388.4L1273.5 388.4L1274.5 388.4L1275.5 388.4L1276.5 388.4L1277.5 388.4L1278.5 388.4L1279.5 388.4L1280.5 388.4L1281.5 388.4L1282.5 388.4L1283.5 388.4L1284.5 388.4L1285.5 388.4L1286.5 388.4L1287.5 388.4L1288.5 388.4L1289.5 388.4L1290.5 388.4L1291.5 388.4L1292.5 388.4L1293.5 388.4L1294.5 388.4L1295.5 388.4L1296.5 388.4L1297.5 388.4L1298.5 388.4L1299.5 388.4L1300.5 388.4L1301.5 388.4L1302.5 388.4L1303.5 388.4L1304.5 388.4L1305.5 388.4L1306.5 388.4L1307.5 388.4L1308.5 388.4L1309.5 388.4L1310.5 388.4L1311.5 388.4L1312.5 388.4L1313.5 388.4L1314.5 388.4L1315.5 388.4L1316.5 388.3L1317.5 388.1L1318.5 387.9L1319.5 387.6L1320.5 387.4L1321.5 387.1L1322.5 386.9L1323.5 386.7L1324.5 386.6L1325.5 386.6L1326.5 386.6L1327.5 386.6L1328.5 386.6L1329.5 386.6L1330.5 386.6L1331.5 386.6L1332.5 386.6L1333.5 386.6L1334.5 386.6L1335.5 386.6L1336.5 386.6L1337.5 386.6L1338.5 386.6L1339.5 386.6L1340.5 386.6L1341.5 386.8L1342.5 387.0L1343.5 387.3L1344.5 387.7L1345.5 388.0L1346.5 388.2L1347.5 388.4L1348.5 388.4L1349.5 388.4L1350.5 388.4L1351.5 388.4L1352.5 388.4L1353.5 388.4L1354.5 388.4L1355.5 388.4L1356.5 388.4L1357.5 388.4L1358.5 388.4L1359.5 388.4L1360.5 388.4L1361.5 388.4L1362.5 388.4L1363.5 388.4L1364.5 388.4L1365.5 388.4L1366.5 388.4L1367.5 388.4L1368.5 388.4L1369.5 388.4L1370.5 388.4L1371.5 388.4L1372.5 388.4L1373.5 388.4L1374.5 388.4L1375.5 388.4L1376.5 388.4L1377.5 388.4L1378.5 388.4L1379.5 388.4L1380.5 388.4L1381.5 388.4L1382.5 388.4L1383.5 388.4L1384.5 388.4L1385.5 388.4L1386.5 388.4L1387.5 388.4L1388.5 388.4L1389.5 388.4L1390.5 388.4L1391.5 388.4L1392.5 388.4L1393.5 388.4L1394.5 388.4L1395.5 388.4L1396.5 388.4L1397.5 388.4L1398.5 388.4L1399.5 388.4L1400.5 388.4L1401.5 388.4L1402.5 388.4L1403.5 388.4L1404.5 388.4L1405.5 388.4L1406.5 388.4L1407.5 388.4L1408.5 388.4L1409.5 388.4L1410.5 388.4L1411.5 388.4L1412.5 388.4L1413.5 388.4L1414.5 388.4L1415.5 388.4L1416.5 388.4L1417.5 388.4L1418.5 388.4L1419.5 388.4L1420.5 388.4L1421.5 388.4L1422.5 388.4L1423.5 388.4L1424.5 388.4L1425.5 388.4L1426.5 388.4L1427.5 388.4L1428.5 388.4L1429.5 388.4L1430.5 388.4L1431.5 388.4L1432.5 388.4L1433.5 388.4L1434.5 388.4L1435.5 388.4L1436.0 388.4" stroke="#4c4c4c" stroke-width="1"/>
<path d="M159.5 388.5L160.5 388.5L161.5 388.5L162.5 388.5L163.5 388.5L164.5 388.5L165.5 388.5L166.5 388.5L167.5 388.5L168.5 388.5L169.5 388.5L170.5 388.5L171.5 388.5L172.5 388.5L173.5 388.5L174.5 388.5L175.5 388.5L176.5 388.5L177.5 388.5L178.5 388.5L179.5 388.5L180.5 388.5L181.5 388.5L182.5 388.5L183.5 388.5L184.5 388.5L185.5 388.5L186.5 388.5L187.5 388.5L188.5 388.5L189.5 388.5L190.5 388.5L191.5 388.5L192.5 388.5L193.5 388.5L194.5 388.5L195.5 388.5L196.5 388.5L197.5 388.5L198.5 388.5L199.5 388.5L200.5 388.5L201.5 388.5L202.5 388.5L203.5 388.5L204.5 388.5L205.5 388.5L206.5 388.5L207.5 388.5L208.5 388.5L209.5 388.5L210.5 388.5L211.5 388.5L212.5 388.5L213.5 388.5L214.5 388.5L215.5 388.5L216.5 388.5L217.5 388.5L218.5 388.5L219.5 388.5L220.5 388.5L221.5 388.5L222.5 388.5L223.5 388.5L224.5 388.5L225.5 388.5L226.5 388.5L227.5 388.5L228.5 388.5L229.5 388.5L230.5 388.5L231.5 388.5L232.5 388.5L233.5 388.5L234.5 388.5L235.5 388.5L236.5 388.5L237.5 388.5L238.5 388.5L239.5 388.5L240.5 388.5L241.5 388.5L242.5 388.5L243.5 388.5L244.5 388.5L245.5 388.5L246.5 388.5L247.5 388.5L248.5 388.5L249.5 388.5L250.5 388.5L251.5 388.5L252.5 388.5L253.5 388.5L254.5 388.5L255.5 388.5L256.5 388.5L257.5 388.5L258.5 388.5L259.5 388.5L260.5 388.5L261.5 388.5L262.5 388.5L263.5 388.5L264.5 388.5L265.5 388.5L266.5 388.5L267.5 388.5L268.5 388.5L269.5 388.5L270.5 388.5L271.5 388.5L272.5 388.5L273.5 388.5L274.5 388.5L275.5 388.5L276.5 388.5L277.5 388.5L278.5 388.5L279.5 388.5L280.5 388.5L281.5 388.5L282.5 388.5L283.5 388.5L284.5 388.5L285.5 388.5L286.5 388.5L287.5 388.5L288.5 388.5L289.5 388.5L290.5 388.5L291.5 388.5L292.5 388.5L293.5 388.5L294.5 388.5L295.5 388.5L296.5 388.5L297.5 388.5L298.5 388.5L299.5 388.5L300.5 388.5L301.5 388.5L302.5 388.5L303.5 388.5L304.5 388.5L305.5 388.5L306.5 388.5L307.5 388.5L308.5 388.5L309.5 388.5L310.5 388.5L311.5 388.5L312.5 388.5L313.5 388.5L314.5 388.5L315.5 388.5L316.5 388.5L317.5 388.5L318.5 388.5L319.5 388.5L320.5 388.5L321.5 388.5L322.5 388.5L323.5 388.5L324.5 388.5L325.5 388.5L326.5 388.5L327.5 388.5L328.5 388.5L329.5 388.5L330.5 388.5L331.5 388.5L332.5 388.5L333.5 388.5L334.5 388.5L335.5 388.5L336.5 388.5L337.5 388.5L338.5 388.5L339.5 388.5L340.5 388.5L341.5 388.5L342.5 388.5L343.5 388.5L344.5 388.5L345.5 388.5L346.5 388.5L347.5 388.5L348.5 388.5L349.5 388.5L350.5 388.5L351.5 388.5L352.5 388.5L353.5 388.5L354.5 388.5L355.5 388.5L356.5 388.5L357.5 388.5L358.5 388.5L359.5 388.5L360.5 388.5L361.5 388.5L362.5 388.5L363.5 388.5L364.5 388.5L365.5 388.5L366.5 388.5L367.5 388.5L368.5 388.5L369.5 388.5L370.5 388.5L371.5 388.5L372.5 388.5L373.5 388.5L374.5 388.5L375.5 388.5L376.5 388.5L377.5 388.5L378.5 388.5L379.5 388.5L380.5 388.5L381.5 388.5L382.5 388.5L383.5 388.5L384.5 388.5L385.5 388.5L386.5 388.5L387.5 388.5L388.5 388.5L389.5 388.5L390.5 388.5L391.5 388.5L392.5 388.5L393.5 388.5L394.5 388.5L395.5 388.5L396.5 388.5L397.5 388.0L398.5 387.5L399.5 387.5L400.5 387.5L401.5 387.5L402.5 387.5L403.5 387.5L404.5 387.5L405.5 388.0L406.5 388.5L407.5 388.5L408.5 388.5L409.5 388.5L410.5 388.5L411.5 388.5L412.5 388.5L413.5 388.5L414.5 388.5L415.5 388.5L416.5 388.5L417.5 388.5L418.5 388.5L419.5 388.5L420.5 388.5L421.5 388.5L422.5 388.5L423.5 388.5L424.5 388.5L425.5 388.5L426.5 388.5L427.5 388.5L428.5 388.5L429.5 388.5L430.5 388.5L431.5 388.5L432.5 388.4L433.5 388.3L434.5 388.2L435.5 388.1L436.5 388.0L437.5 387.9L438.5 387.8L439.5 387.7L440.5 387.5L441.5 387.4L442.5 387.2L443.5 387.1L444.5 386.9L445.5 386.7L446.5 386.6L447.5 386.5L448.5 386.4L449.5 386.4L450.5 386.4L451.5 386.5L452.5 386.6L453.5 386.6L454.5 386.8L455.5 386.9L456.5 387.0L457.5 387.1L458.5 387.3L459.5 387.4L460.5 387.6L461.5 387.7L462.5 387.8L463.5 387.9L464.5 388.1L465.5 388.2L466.5 388.3L467.5 388.4L468.5 388.5L469.5 388.7L470.5 388.8L471.5 388.9L472.5 389.0L473.5 389.1L474.5 389.3L475.5 389.3L476.5 389.4L477.5 389.5L478.5 389.6L479.5 389.6L480.5 389.6L481.5 389.6L482.5 389.6L483.5 389.5L484.5 389.5L485.5 389.4L486.5 389.3L487.5 389.3L488.5 389.2L489.5 389.1L490.5 389.0L491.5 388.9L492.5 388.8L493.5 388.7L494.5 388.5L495.5 388.4L496.5 388.3L497.5 388.2L498.5 388.2L499.5 388.1L500.5 388.0L501.5 387.9L502.5 387.9L503.5 387.8L504.5 387.8L505.5 387.8L506.5 387.8L507.5 387.8L508.5 387.8L509.5 387.8L510.5 387.7L511.5 387.7L512.5 387.7L513.5 387.7L514.5 387.7L515.5 387.7L516.5 387.7L517.5 387.7L518.5 387.7L519.5 387.7L520.5 387.7L521.5 387.7L522.5 387.7L523.5 387.7L524.5 387.7L525.5 387.6L526.5 387.6L527.5 387.6L528.5 387.6L529.5 387.6L530.5 387.6L531.5 387.6L532.5 387.6L533.5 387.6L534.5 387.6L535.5 387.6L536.5 387.6L537.5 387.6L538.5 387.6L539.5 387.6L540.5 387.6L541.5 387.6L542.5 387.6L543.5 387.6L544.5 387.6L545.5 387.6L546.5 387.6L547.5 387.7L548.5 387.8L549.5 388.0L550.5 388.1L551.5 388.3L552.5 388.4L553.5 388.6L554.5 388.8L555.5 388.9L556.5 389.1L557.5 389.2L558.5 389.3L559.5 389.3L560.5 389.3L561.5 389.3L562.5 389.2L563.5 389.1L564.5 388.9L565.5 388.8L566.5 388.6L567.5 388.4L568.5 388.2L569.5 388.1L570.5 387.9L571.5 387.7L572.5 387.5L573.5 387.3L574.5 387.0L575.5 386.7L576.5 386.5L577.5 386.3L578.5 386.1L579.5 385.9L580.5 385.8L581.5 385.8L582.5 385.8L583.5 385.9L584.5 386.1L585.5 386.3L586.5 386.6L587.5 386.9L588.5 387.2L589.5 387.5L590.5 387.8L591.5 388.2L592.5 388.6L593.5 389.1L594.5 389.7L595.5 390.3L596.5 390.9L597.5 391.5L598.5 392.1L599.5 392.6L600.5 393.1L601.5 393.4L602.5 393.6L603.5 393.7L604.5 393.8L605.5 393.9L606.5 393.9L607.5 394.0L608.5 394.1L609.5 394.1L610.5 394.1L611.5 394.1L612.5 393.9L613.5 393.7L614.5 393.4L615.5 393.1L616.5 392.7L617.5 392.3L618.5 391.9L619.5 391.5L620.5 391.1L621.5 390.5L622.5 390.0L623.5 389.4L624.5 388.8L625.5 388.1L626.5 387.5L627.5 386.9L628.5 386.3L629.5 385.8L630.5 385.2L631.5 384.7L632.5 384.2L633.5 383.8L634.5 383.3L635.5 382.8L636.5 382.4L637.5 381.9L638.5 381.5L639.5 381.2L640.5 380.8L641.5 380.5L642.5 380.1L643.5 379.8L644.5 379.6L645.5 379.5L646.5 379.6L647.5 379.8L648.5 380.1L649.5 380.4L650.5 380.9L651.5 381.3L652.5 381.8L653.5 382.2L654.5 382.8L655.5 383.4L656.5 384.1L657.5 384.8L658.5 385.6L659.5 386.3L660.5 386.9L661.5 387.5L662.5 388.1L663.5 388.8L664.5 389.4L665.5 390.0L666.5 390.5L667.5 390.9L668.5 391.1L669.5 391.2L670.5 391.3L671.5 391.4L672.5 391.4L673.5 391.4L674.5 391.3L675.5 391.1L676.5 390.8L677.5 390.5L678.5 390.1L679.5 389.9L680.5 389.7L681.5 389.7L682.5 389.7L683.5 389.7L684.5 389.7L685.5 389.7L686.5 389.7L687.5 389.8L688.5 389.8L689.5 389.8L690.5 389.8L691.5 389.9L692.5 390.0L693.5 390.2L694.5 390.4L695.5 390.7L696.5 390.9L697.5 391.1L698.5 391.3L699.5 391.4L700.5 391.5L701.5 391.5L702.5 391.5L703.5 391.4L704.5 391.3L705.5 391.2L706.5 391.0L707.5 390.9L708.5 390.7L709.5 390.6L710.5 390.4L711.5 390.2L712.5 390.0L713.5 389.8L714.5 389.6L715.5 389.5L716.5 389.5L717.5 389.7L718.5 390.2L719.5 390.8L720.5 391.5L721.5 392.3L722.5 393.0L723.5 393.8L724.5 394.6L725.5 395.6L726.5 396.6L727.5 397.5L728.5 398.4L729.5 399.2L730.5 399.8L731.5 400.4L732.5 401.0L733.5 401.4L734.5 401.7L735.5 401.7L736.5 401.5L737.5 401.1L738.5 400.5L739.5 399.8L740.5 399.1L741.5 397.9L742.5 396.3L743.5 394.5L744.5 392.4L745.5 390.3L746.5 388.2L747.5 385.9L748.5 383.3L749.5 380.5L750.5 377.7L751.5 375.0L752.5 372.5L753.5 370.1L754.5 367.6L755.5 365.1L756.5 362.8L757.5 360.6L758.5 358.6L759.5 356.9L760.5 355.6L761.5 354.3L762.5 353.1L763.5 352.0L764.5 351.1L765.5 350.6L766.5 350.5L767.5 350.8L768.5 351.4L769.5 352.2L770.5 353.2L771.5 354.3L772.5 355.5L773.5 357.0L774.5 359.0L775.5 361.5L776.5 364.3L777.5 367.2L778.5 370.3L779.5 373.5L780.5 376.6L781.5 379.9L782.5 383.5L783.5 387.2L784.5 391.0L785.5 394.7L786.5 398.4L787.5 402.2L788.5 406.2L789.5 410.2L790.5 414.2L791.5 417.9L792.5 421.3L793.5 424.3L794.5 426.9L795.5 429.4L796.5 431.8L797.5 434.0L798.5 436.0L799.5 437.8L800.5 439.2L801.5 440.2L802.5 441.2L803.5 442.0L804.5 442.7L805.5 443.0L806.5 442.8L807.5 442.2L808.5 441.3L809.5 440.0L810.5 438.6L811.5 437.1L812.5 435.2L813.5 432.8L814.5 430.0L815.5 426.8L816.5 423.5L817.5 420.0L818.5 416.2L819.5 412.0L820.5 407.3L821.5 402.4L822.5 397.4L823.5 392.4L824.5 387.4L825.5 382.6L826.5 377.6L827.5 372.4L828.5 367.3L829.5 362.4L830.5 358.0L831.5 354.1L832.5 350.4L833.5 346.9L834.5 343.7L835.5 340.8L836.5 338.2L837.5 336.2L838.5 334.6L839.5 333.2L840.5 331.9L841.5 330.8L842.5 329.8L843.5 329.0L844.5 328.2L845.5 327.5L846.5 326.9L847.5 326.3L848.5 325.8L849.5 325.3L850.5 324.7L851.5 324.0L852.5 323.4L853.5 322.7L854.5 322.2L855.5 321.8L856.5 321.8L857.5 322.1L858.5 322.8L859.5 323.8L860.5 325.1L861.5 326.7L862.5 329.7L863.5 334.2L864.5 339.6L865.5 345.6L866.5 353.2L867.5 362.1L868.5 372.0L869.5 382.6L870.5 393.7L871.5 406.4L872.5 420.2L873.5 434.4L874.5 448.4L875.5 461.9L876.5 476.1L877.5 490.3L878.5 504.0L879.5 516.4L880.5 526.7L881.5 535.8L882.5 544.9L883.5 552.4L884.5 556.9L885.5 557.1L886.5 554.5L887.5 549.6L888.5 543.0L889.5 535.2L890.5 526.7L891.5 513.7L892.5 495.5L893.5 475.1L894.5 455.6L895.5 439.0L896.5 423.4L897.5 405.7L898.5 382.3L899.5 344.3L900.5 320.7L901.5 303.9L902.5 289.6L903.5 275.1L904.5 261.1L905.5 250.2L906.5 242.4L907.5 235.7L908.5 232.3L909.5 233.2L910.5 237.1L911.5 243.6L912.5 254.4L913.5 282.1L914.5 294.9L915.5 305.3L916.5 315.3L917.5 325.4L918.5 336.7L919.5 350.3L920.5 365.0L921.5 380.0L922.5 395.0L923.5 409.6L924.5 423.6L925.5 436.2L926.5 448.0L927.5 457.0L928.5 463.5L929.5 467.7L930.5 466.4L931.5 460.9L932.5 455.0L933.5 448.0L934.5 439.8L935.5 430.7L936.5 421.5L937.5 411.9L938.5 402.2L939.5 392.9L940.5 384.4L941.5 376.3L942.5 368.7L943.5 360.9L944.5 352.8L945.5 346.2L946.5 342.3L947.5 339.2L948.5 336.9L949.5 336.0L950.5 336.8L951.5 339.0L952.5 341.8L953.5 345.0L954.5 349.5L955.5 355.0L956.5 360.5L957.5 366.0L958.5 371.7L959.5 377.4L960.5 382.9L961.5 388.5L962.5 394.1L963.5 399.2L964.5 403.6L965.5 407.5L966.5 411.2L967.5 414.2L968.5 416.1L969.5 417.6L970.5 418.8L971.5 419.8L972.5 420.4L973.5 420.5L974.5 420.2L975.5 419.6L976.5 418.8L977.5 418.0L978.5 417.2L979.5 416.4L980.5 415.5L981.5 414.5L982.5 413.5L983.5 412.4L984.5 411.3L985.5 410.2L986.5 409.0L987.5 407.9L988.5 406.7L989.5 405.5L990.5 404.2L991.5 402.7L992.5 401.2L993.5 399.4L994.5 397.3L995.5 394.9L996.5 392.3L997.5 389.6L998.5 386.6L999.5 383.6L1000.5 380.5L1001.5 377.3L1002.5 374.0L1003.5 370.8L1004.5 368.0L1005.5 365.8L1006.5 363.8L1007.5 361.8L1008.5 360.0L1009.5 358.5L1010.5 357.5L1011.5 357.1L1012.5 357.4L1013.5 358.3L1014.5 359.8L1015.5 361.5L1016.5 363.4L1017.5 366.2L1018.5 370.0L1019.5 374.0L1020.5 378.0L1021.5 382.2L1022.5 385.6L1023.5 388.7L1024.5 391.5L1025.5 394.0L1026.5 396.4L1027.5 398.7L1028.5 400.8L1029.5 402.6L1030.5 403.7L1031.5 404.8L1032.5 405.6L1033.5 406.1L1034.5 406.1L1035.5 405.8L1036.5 405.2L1037.5 404.4L1038.5 403.6L1039.5 402.4L1040.5 401.0L1041.5 399.3L1042.5 397.3L1043.5 394.4L1044.5 391.2L1045.5 388.6L1046.5 386.5L1047.5 384.4L1048.5 382.5L1049.5 380.9L1050.5 379.8L1051.5 379.1L1052.5 378.6L1053.5 378.1L1054.5 377.7L1055.5 377.5L1056.5 377.4L1057.5 377.6L1058.5 378.2L1059.5 378.9L1060.5 379.9L1061.5 380.8L1062.5 381.8L1063.5 383.0L1064.5 384.4L1065.5 385.8L1066.5 387.3L1067.5 388.7L1068.5 389.8L1069.5 390.7L1070.5 391.6L1071.5 392.5L1072.5 393.2L1073.5 393.9L1074.5 394.5L1075.5 394.9L1076.5 395.2L1077.5 395.5L1078.5 395.7L1079.5 395.9L1080.5 396.1L1081.5 396.1L1082.5 396.0L1083.5 395.8L1084.5 395.5L1085.5 395.2L1086.5 394.9L1087.5 394.5L1088.5 394.2L1089.5 393.8L1090.5 393.4L1091.5 393.0L1092.5 392.5L1093.5 392.1L1094.5 391.6L1095.5 391.1L1096.5 390.7L1097.5 390.3L1098.5 389.9L1099.5 389.5L1100.5 389.1L1101.5 388.7L1102.5 388.4L1103.5 388.0L1104.5 387.8L1105.5 387.6L1106.5 387.4L1107.5 387.3L1108.5 387.2L1109.5 387.2L1110.5 387.1L1111.5 387.0L1112.5 387.0L1113.5 386.9L1114.5 386.8L1115.5 386.8L1116.5 386.7L1117.5 386.7L1118.5 386.6L1119.5 386.6L1120.5 386.5L1121.5 386.5L1122.5 386.4L1123.5 386.3L1124.5 386.2L1125.5 386.1L1126.5 386.0L1127.5 385.9L1128.5 385.8L1129.5 385.7L1130.5 385.6L1131.5 385.5L1132.5 385.4L1133.5 385.3L1134.5 385.2L1135.5 385.2L1136.5 385.2L1137.5 385.2L1138.5 385.2L1139.5 385.2L1140.5 385.2L1141.5 385.2L1142.5 385.2L1143.5 385.3L1144.5 385.3L1145.5 385.3L1146.5 385.3L1147.5 385.3L1148.5 385.4L1149.5 385.4L1150.5 385.4L1151.5 385.5L1152.5 385.5L1153.5 385.6L1154.5 385.8L1155.5 386.2L1156.5 386.6L1157.5 387.1L1158.5 387.6L1159.5 388.0L1160.5 388.4L1161.5 388.9L1162.5 389.3L1163.5 389.7L1164.5 390.1L1165.5 390.4L1166.5 390.6L1167.5 390.7L1168.5 390.8L1169.5 390.9L1170.5 391.0L1171.5 391.0L1172.5 391.1L1173.5 391.1L1174.5 391.2L1175.5 391.2L1176.5 391.2L1177.5 391.0L1178.5 390.7L1179.5 390.3L1180.5 389.8L1181.5 389.4L1182.5 389.0L1183.5 388.7L1184.5 388.3L1185.5 388.0L1186.5 387.7L1187.5 387.4L1188.5 387.1L1189.5 387.0L1190.5 386.8L1191.5 386.8L1192.5 386.8L1193.5 386.9L1194.5 387.0L1195.5 387.1L1196.5 387.3L1197.5 387.4L1198.5 387.5L1199.5 387.8L1200.5 388.1L1201.5 388.4L1202.5 388.8L1203.5 389.1L1204.5 389.4L1205.5 389.7L1206.5 389.8L1207.5 389.9L1208.5 390.0L1209.5 390.0L1210.5 390.1L1211.5 390.1L1212.5 390.2L1213.5 390.2L1214.5 390.2L1215.5 390.1L1216.5 389.9L1217.5 389.5L1218.5 389.1L1219.5 388.6L1220.5 388.2L1221.5 387.8L1222.5 387.6L1223.5 387.4L1224.5 387.3L1225.5 387.2L1226.5 387.1L1227.5 387.0L1228.5 386.9L1229.5 386.9L1230.5 386.8L1231.5 386.8L1232.5 386.8L1233.5 386.8L1234.5 386.9L1235.5 386.9L1236.5 387.0L1237.5 387.2L1238.5 387.3L1239.5 387.4L1240.5 387.5L1241.5 387.7L1242.5 387.8L1243.5 387.9L1244.5 388.0L1245.5 388.1L1246.5 388.2L1247.5 388.3L1248.5 388.4L1249.5 388.4L1250.5 388.4L1251.5 388.4L1252.5 388.4L1253.5 388.4L1254.5 388.4L1255.5 388.4L1256.5 388.4L1257.5 388.4L1258.5 388.4L1259.5 388.4L1260.5 388.4L1261.5 388.4L1262.5 388.4L1263.5 388.4L1264.5 388.4L1265.5 388.4L1266.5 388.3L1267.5 388.0L1268.5 387.6L1269.5 387.5L1270.5 387.5L1271.5 387.5L1272.5 387.5L1273.5 387.5L1274.5 387.5L1275.5 387.5L1276.5 387.5L1277.5 387.5L1278.5 387.5L1279.5 387.5L1280.5 387.5L1281.5 387.6L1282.5 387.9L1283.5 388.3L1284.5 388.4L1285.5 388.4L1286.5 388.4L1287.5 388.4L1288.5 388.4L1289.5 388.4L1290.5 388.4L1291.5 388.4L1292.5 388.4L1293.5 388.4L1294.5 388.4L1295.5 388.5L1296.5 388.9L1297.5 389.3L1298.5 389.4L1299.5 389.4L1300.5 389.4L1301.5 389.4L1302.5 389.4L1303.5 389.4L1304.5 389.4L1305.5 389.4L1306.5 389.4L1307.5 389.4L1308.5 389.4L1309.5 389.4L1310.5 389.4L1311.5 389.3L1312.5 388.9L1313.5 388.5L1314.5 388.4L1315.5 388.4L1316.5 388.4L1317.5 388.4L1318.5 388.4L1319.5 388.4L1320.5 388.3L1321.5 388.0L1322.5 387.6L1323.5 387.5L1324.5 387.5L1325.5 387.5L1326.5 387.5L1327.5 387.5L1328.5 387.5L1329.5 387.5L1330.5 387.5L1331.5 387.5L1332.5 387.5L1333.5 387.5L1334.5 387.5L1335.5 387.5L1336.5 387.5L1337.5 387.6L1338.5 387.9L1339.5 388.3L1340.5 388.4L1341.5 388.4L1342.5 388.4L1343.5 388.4L1344.5 388.4L1345.5 388.4L1346.5 388.4L1347.5 388.4L1348.5 388.4L1349.5 388.4L1350.5 388.4L1351.5 388.4L1352.5 388.4L1353.5 388.4L1354.5 388.4L1355.5 388.4L1356.5 388.4L1357.5 388.4L1358.5 388.4L1359.5 388.4L1360.5 388.4L1361.5 388.4L1362.5 388.4L1363.5 388.4L1364.5 388.3L1365.5 388.0L1366.5 387.6L1367.5 387.5L1368.5 387.5L1369.5 387.5L1370.5 387.5L1371.5 387.5L1372.5 387.5L1373.5 387.6L1374.5 387.9L1375.5 388.3L1376.5 388.4L1377.5 388.4L1378.5 388.4L1379.5 388.4L1380.5 388.4L1381.5 388.4L1382.5 388.4L1383.5 388.4L1384.5 388.4L1385.5 388.4L1386.5 388.4L1387.5 388.4L1388.5 388.4L1389.5 388.4L1390.5 388.4L1391.5 388.4L1392.5 388.4L1393.5 388.4L1394.5 388.4L1395.5 388.4L1396.5 388.4L1397.5 388.4L1398.5 388.4L1399.5 388.4L1400.5 388.4L1401.5 388.4L1402.5 388.4L1403.5 388.4L1404.5 388.4L1405.5 388.4L1406.5 388.4L1407.5 388.4L1408.5 388.4L1409.5 388.4L1410.5 388.4L1411.5 388.4L1412.5 388.4L1413.5 388.4L1414.5 388.4L1415.5 388.4L1416.5 388.4L1417.5 388.4L1418.5 388.4L1419.5 388.4L1420.5 388.4L1421.5 388.4L1422.5 388.4L1423.5 388.4L1424.5 388.4L1425.5 388.4L1426.5 388.4L1427.5 388.4L1428.5 388.4L1429.5 388.4L1430.5 388.4L1431.5 388.4L1432.5 388.4L1433.5 388.4L1434.5 388.4L1435.5 388.4L1436.0 388.4" stroke="#ff7b08" stroke-width="3.2"/>
</g>
<rect x="159.5" y="109.5" width="1280" height="557" fill="none" stroke="#000" stroke-width="1"/>
<rect x="159" y="419" width="1" height="6" fill="#c9c9c9"/>
<text x="138.3" y="126.1" text-anchor="end" font-size="45.8">4</text>
<text x="138.3" y="266.1" text-anchor="end" font-size="45.8">2</text>
<text x="138.3" y="405.1" text-anchor="end" font-size="45.8">0</text>
<text x="138.3" y="544.1" text-anchor="end" font-size="45.8">−2</text>
<text x="138.3" y="683.1" text-anchor="end" font-size="45.8">−4</text>
<text x="157.9" y="717.3" text-anchor="middle" font-size="45.8">0.4</text>
<text x="414.7" y="717.3" text-anchor="middle" font-size="45.8">0.45</text>
<text x="669.9" y="717.3" text-anchor="middle" font-size="45.8">0.5</text>
<text x="926.7" y="717.3" text-anchor="middle" font-size="45.8">0.55</text>
<text x="1181.9" y="717.3" text-anchor="middle" font-size="45.8">0.6</text>
<text x="1438.7" y="717.3" text-anchor="middle" font-size="45.8">0.65</text>
<text x="794.4" y="775.8" text-anchor="middle" font-size="45.2">Time-1258866165 (s)</text>
<g transform="translate(65.3,433.6) rotate(-90)"><text transform="scale(1.13,1)" x="0" y="0" font-size="45" stroke="#000" stroke-width="0.5">σ</text><text x="30.3" y="13.1" font-size="29.5">noise</text></g>
<rect x="171.5" y="517.5" width="576" height="139" fill="#fff" stroke="#000" stroke-width="1"/>
<path d="M192 540.5H294" stroke="#ff7b08" stroke-width="3" fill="none"/>
<path d="M192 586.5H294" stroke="#4c4c4c" stroke-width="1" fill="none"/>
<path d="M192 633.5H294" stroke="#c9c9c9" stroke-width="1" fill="none"/>
<path d="M243 540h1v1h-1zM243 586h1v1h-1zM243 633h1v1h-1z" fill="#000"/>
<text x="531.2" y="549.2" text-anchor="middle" font-size="29.7">cWB: SNR=6.5</text>
<text x="531.2" y="596.2" text-anchor="middle" font-size="29.7">LI: SNR=6.9</text>
<text x="531.2" y="642.3" text-anchor="middle" font-size="29.7">whitened data (16:512 Hz)</text>
</svg></body></html>
